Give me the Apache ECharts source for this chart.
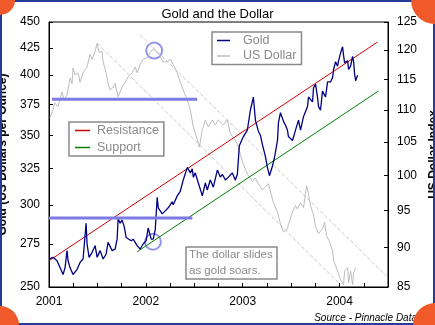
<!DOCTYPE html>
<html><head><meta charset="utf-8">
<script src="https://cdn.jsdelivr.net/npm/echarts@6/dist/echarts.min.js"></script>
<style>html,body{margin:0;padding:0;background:#fff}#c{width:435px;height:325px}</style>
</head><body><div id="c"></div>
<script>
// ---- data (decimal years; values) ----
const goldYears = [2001.000,2001.041,2001.083,2001.114,2001.145,2001.166,2001.186,2001.197,2001.217,2001.248,2001.290,2001.321,2001.352,2001.372,2001.383,2001.393,2001.414,2001.445,2001.476,2001.497,2001.528,2001.559,2001.590,2001.610,2001.652,2001.683,2001.703,2001.714,2001.734,2001.755,2001.776,2001.797,2001.817,2001.848,2001.869,2001.910,2001.941,2001.972,2002.003,2002.024,2002.055,2002.076,2002.097,2002.117,2002.128,2002.169,2002.200,2002.231,2002.272,2002.283,2002.324,2002.355,2002.386,2002.428,2002.459,2002.479,2002.490,2002.510,2002.541,2002.583,2002.614,2002.634,2002.665,2002.697,2002.738,2002.769,2002.790,2002.821,2002.852,2002.893,2002.924,2002.945,2002.965,2003.007,2003.048,2003.079,2003.110,2003.131,2003.162,2003.183,2003.203,2003.234,2003.255,2003.276,2003.307,2003.328,2003.359,2003.369,2003.390,2003.421,2003.441,2003.462,2003.472,2003.514,2003.545,2003.576,2003.597,2003.628,2003.669,2003.679,2003.721,2003.731,2003.752,2003.772,2003.783,2003.803,2003.824,2003.834,2003.855,2003.876,2003.886,2003.907,2003.928,2003.938,2003.959,2003.979,2003.990,2004.010,2004.031,2004.041,2004.052,2004.083,2004.093,2004.114,2004.134,2004.145,2004.155,2004.166,2004.186];
const goldValues = [266,267,265,261,257,261,271,265,261,257,260,264,266,267,288,275,267,270,274,267,271,266,269,276,271,272,278,291,288,290,286,279,278,277,278,274,272,275,277,285,278,278,284,305,298,294,296,298,302,300,306,309,317,326,322,325,319,322,315,306,315,310,317,312,324,319,321,317,319,322,317,321,342,349,354,370,381,362,353,350,343,334,326,320,327,333,346,360,368,361,358,354,349,346,354,362,354,365,373,381,377,389,392,381,373,370,386,387,381,394,395,394,398,405,412,408,413,420,426,418,411,413,405,408,417,412,401,395,400];

const dollarYears = [2001.010,2001.031,2001.062,2001.093,2001.134,2001.155,2001.186,2001.217,2001.238,2001.248,2001.269,2001.300,2001.321,2001.352,2001.393,2001.424,2001.445,2001.476,2001.497,2001.517,2001.548,2001.559,2001.590,2001.610,2001.631,2001.662,2001.683,2001.714,2001.755,2001.786,2001.817,2001.859,2001.890,2001.910,2001.941,2001.972,2002.014,2002.045,2002.076,2002.117,2002.148,2002.179,2002.221,2002.252,2002.283,2002.324,2002.355,2002.386,2002.428,2002.459,2002.490,2002.531,2002.552,2002.583,2002.614,2002.645,2002.686,2002.717,2002.748,2002.800,2002.841,2002.872,2002.945,2002.976,2003.007,2003.048,2003.100,2003.131,2003.162,2003.203,2003.265,2003.317,2003.359,2003.390,2003.421,2003.462,2003.472,2003.514,2003.545,2003.566,2003.597,2003.628,2003.659,2003.679,2003.700,2003.731,2003.752,2003.783,2003.824,2003.845,2003.865,2003.896,2003.928,2003.938,2003.979,2004.010,2004.041,2004.052,2004.083,2004.093,2004.114,2004.134,2004.145,2004.166];
const dollarValues = [108.8,109.5,111.1,110.5,112.9,111.6,112.4,115.2,114.3,116.9,115.7,116.1,114.5,116.1,117.1,119.3,118.4,119.8,121.2,119.6,119.8,117.9,116.1,114.3,113.2,113.7,114.3,112.1,113.7,114.5,115.4,116.1,117.1,116.1,117.5,118.4,118.7,119.6,120.2,119.6,118.9,117.9,118.0,118.4,117.5,116.1,114.5,113.2,111.6,110.0,107.3,105.3,104.2,106.9,108.4,107.3,108.4,107.6,108.4,107.6,108.4,106.3,104.7,103.1,101.6,100.2,99.1,99.6,98.8,97.9,98.8,96.1,94.8,93.1,92.1,92.5,93.1,94.8,95.7,95.2,96.1,95.4,98.5,97.4,95.7,94.4,92.8,91.9,92.5,93.4,91.6,90.8,89.6,88.4,87.0,85.9,85.3,87.0,87.4,85.5,87.0,85.3,86.8,87.4];

// trend lines (gold axis)
const resistanceYears = [2001.000, 2004.393];
const resistanceValues = [265, 430.5];
const supportYears = [2001.910, 2004.403];
const supportValues = [270.3, 386.2];
// dollar channel lines (dollar axis)
const channelUpperYears = [2001.941, 2004.496];
const channelUpperValues = [122.7, 86.25];
const channelLowerYears = [2001.497, 2003.990];
const channelLowerValues = [121.2, 85.5];
// horizontal levels
const dollarLevelYears = [2001.03, 2002.53];
const dollarLevelValue = 111.7;
const goldLevelYears = [2001.00, 2002.48];
const goldLevelValue = 291.3;
// circled points
const dollarCircle = [2002.086, 119.9];
const goldCircle = [2002.073, 276.4];

// tick labels
const goldTicks = [250,275,300,325,350,375,400,425,450];
const dollarTicks = [85,90,95,100,105,110,115,120,125];
const yearTicks = [2001,2002,2003,2004];

const L = Math.log10;
const pairs = (xs, ys) => xs.map((x, i) => [x, L(ys[i])]);
const FONT = '"Liberation Sans", Arial, sans-serif';
const GRAY_TXT = '#8a8a8a';
const BLUE = '#7b7be3';

const chart = echarts.init(document.getElementById('c'), null, {renderer: 'canvas'});
const yAxisBase = (ticks, pos, name) => ({
  type: 'value', position: pos,
  min: L(ticks[0]), max: L(ticks[ticks.length - 1]),
  axisLine: {show: true, lineStyle: {color: '#000', width: 1}},
  axisTick: {show: true, inside: true, length: 4, customValues: ticks.map(L), lineStyle: {color: '#000'}},
  axisLabel: {customValues: ticks.map(L), formatter: v => String(Math.round(Math.pow(10, v))),
    fontFamily: FONT, fontSize: 12, color: '#000', margin: 9},
  splitLine: {show: false},
  name: name, nameLocation: 'middle', nameRotate: 90, nameGap: 35,
  nameTextStyle: {fontFamily: FONT, fontSize: 12, fontWeight: 'bold', color: '#000'}
});
const plain = (name, axis, data, color, width, type) => ({
  name, type: 'line', yAxisIndex: axis, data, symbol: 'none', silent: true,
  itemStyle: {color}, lineStyle: {color, width, type: type || 'solid'}, animation: false
});

chart.setOption({
  animation: false,
  backgroundColor: '#fff',
  title: [
    {text: 'Gold and the Dollar', left: 'center', top: 3,
      textStyle: {fontFamily: FONT, fontSize: 13, fontWeight: 'normal', color: '#000'}},
    {text: 'The dollar slides\nas gold soars.', left: 186, top: 247, padding: [0, 5, 0, 3],
      borderColor: GRAY_TXT, borderWidth: 1.5,
      textStyle: {fontFamily: FONT, fontSize: 11.5, fontWeight: 'normal', color: GRAY_TXT, lineHeight: 16}},
    {text: 'Source - Pinnacle Data', right: 18, top: 313, padding: 0,
      textStyle: {fontFamily: FONT, fontSize: 10, fontStyle: 'italic', fontWeight: 'normal', color: '#000'}}
  ],
  legend: [
    {data: ['Gold', 'US Dollar'], orient: 'vertical', left: 212, top: 32, padding: [2, 5, 2, 5],
      itemGap: 2.5, itemWidth: 13, itemHeight: 1.5, icon: 'rect', borderColor: GRAY_TXT, borderWidth: 1.5,
      selectedMode: false,
      textStyle: {fontFamily: FONT, fontSize: 12.5, color: GRAY_TXT, padding: [0, 0, 0, 8]}},
    {data: ['Resistance', 'Support'], orient: 'vertical', left: 69, top: 122, padding: [2, 5, 2, 6],
      itemGap: 4, itemWidth: 15, itemHeight: 1.5, icon: 'rect', borderColor: GRAY_TXT, borderWidth: 1.5,
      selectedMode: false,
      textStyle: {fontFamily: FONT, fontSize: 12.5, color: GRAY_TXT, padding: [0, 0, 0, 2]}}
  ],
  grid: {left: 49, top: 22, right: 47, bottom: 38, show: true, borderColor: '#000', borderWidth: 1,
    containLabel: false, outerBoundsMode: 'none'},
  xAxis: {
    type: 'value', min: yearTicks[0], max: 2004.5, interval: 0.25,
    axisLine: {lineStyle: {color: '#000', width: 1}},
    axisTick: {inside: true, length: 4, lineStyle: {color: '#000'}},
    axisLabel: {formatter: v => (Math.abs(v - Math.round(v)) < 1e-6 && yearTicks.includes(Math.round(v))) ? String(Math.round(v)) : '',
      fontFamily: FONT, fontSize: 12, color: '#000', margin: 9, showMinLabel: true},
    splitLine: {show: false}
  },
  yAxis: [
    yAxisBase(goldTicks, 'left', 'Gold (US Dollars per Ounce)'),
    yAxisBase(dollarTicks, 'right', 'US Dollar Index')
  ],
  series: [
    plain('chanU', 1, pairs(channelUpperYears, channelUpperValues), '#c8c8c8', 1, [4, 2]),
    plain('chanL', 1, pairs(channelLowerYears, channelLowerValues), '#c8c8c8', 1, [4, 2]),
    plain('US Dollar', 1, pairs(dollarYears, dollarValues), '#bdbdbd', 1),
    plain('Resistance', 0, pairs(resistanceYears, resistanceValues), '#cc0000', 1),
    plain('Support', 0, pairs(supportYears, supportValues), '#008000', 1),
    plain('Gold', 0, pairs(goldYears, goldValues), '#000080', 1.3),
    plain('dLevel', 1, pairs(dollarLevelYears, [dollarLevelValue, dollarLevelValue]), BLUE, 3),
    plain('gLevel', 0, pairs(goldLevelYears, [goldLevelValue, goldLevelValue]), BLUE, 3),
    {name: 'dCircle', type: 'scatter', yAxisIndex: 1, silent: true, symbol: 'circle', symbolSize: 16,
      data: [[dollarCircle[0], L(dollarCircle[1])]],
      itemStyle: {color: 'rgba(0,0,0,0)', borderColor: BLUE, borderWidth: 2}},
    {name: 'gCircle', type: 'scatter', yAxisIndex: 0, silent: true, symbol: 'circle', symbolSize: 16,
      data: [[goldCircle[0], L(goldCircle[1])]],
      itemStyle: {color: 'rgba(0,0,0,0)', borderColor: BLUE, borderWidth: 2}}
  ],
  graphic: [
    {type: 'rect', z: 100, silent: true, shape: {x: 1, y: 1, width: 433, height: 323},
      style: {fill: null, stroke: '#253c98', lineWidth: 2}},
    {type: 'circle', z: 101, silent: true, shape: {cx: 0, cy: 0, r: 15}, style: {fill: '#f05a2a'}},
    {type: 'circle', z: 101, silent: true, shape: {cx: 435, cy: 0, r: 24}, style: {fill: '#f05a2a'}},
    {type: 'circle', z: 101, silent: true, shape: {cx: 435, cy: 325, r: 22}, style: {fill: '#f05a2a'}},
    {type: 'circle', z: 101, silent: true, shape: {cx: 0, cy: 325, r: 19}, style: {fill: '#f05a2a'}}
  ]
});
</script></body></html>
